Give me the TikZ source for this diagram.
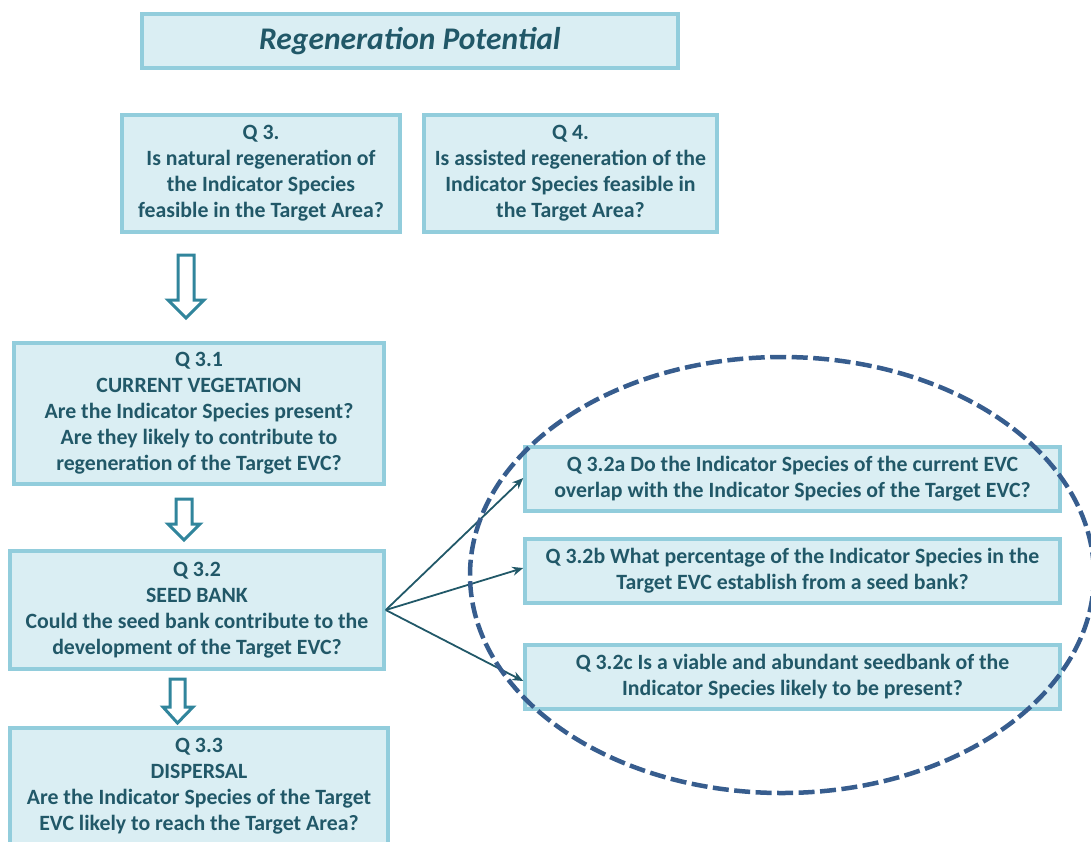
\documentclass[tikz,border=0pt]{standalone}
\usepackage{fontspec}
\setmainfont{Carlito}
\usetikzlibrary{arrows.meta}
\definecolor{boxfill}{HTML}{DAEEF3}
\definecolor{boxline}{HTML}{92CDDC}
\definecolor{txt}{HTML}{215868}
\definecolor{harrow}{HTML}{31859C}
\definecolor{ellc}{HTML}{375D8E}
\begin{document}
\begin{tikzpicture}[x=1pt,y=-1pt,
  qbox/.style={draw=boxline, fill=boxfill, line width=3.5pt, text=txt,
    font=\bfseries\fontsize{21.8}{26}\selectfont, align=center, inner sep=0pt},
  blockarrow/.style={draw=harrow, fill=white, line width=3pt, line join=miter},
  conn/.style={draw=txt, line width=1.8pt, -{Stealth[length=11pt,width=9pt]}},
  dashring/.style={draw=ellc, line width=4.5pt, dash pattern=on 16pt off 5.5pt}]
\useasboundingbox (0,0) rectangle (1091,841);
\clip (0,0) rectangle (1091,841);

\node[qbox, minimum width=536pt, minimum height=54pt,
  font=\bfseries\itshape\fontsize{31.5}{36}\selectfont] (title) at (410,41) {Regeneration Potential};

\node[qbox, minimum width=278pt, minimum height=117pt] (q3) at (261,173.5)
  {Q 3.\\Is natural\ regeneration of\\the Indicator Species\\feasible in the Target Area?};
\node[qbox, minimum width=293pt, minimum height=117pt] (q4) at (570.5,173.5)
  {Q 4.\\Is assisted regeneration of the\\Indicator Species feasible in\\the Target Area?};

\node[qbox, minimum width=370pt, minimum height=141pt] (q31) at (199,413.5)
  {Q 3.1\\CURRENT\ VEGETATION\\Are the Indicator Species present?\\Are they likely to contribute to\\regeneration of the Target EVC?};
\node[qbox, minimum width=374pt, minimum height=118pt] (q32) at (197,610)
  {Q 3.2\\SEED BANK\\Could the seed bank contribute to the\\development of the Target EVC?};
\node[qbox, minimum width=378pt, minimum height=116pt] (q33) at (199,786)
  {Q 3.3\\DISPERSAL\\Are the Indicator Species of the Target\\EVC likely to reach the Target Area?};

\node[qbox, minimum width=535pt, minimum height=64pt] (q32a) at (792.5,479)
  {Q 3.2a Do the Indicator Species of the current EVC\\overlap with the Indicator Species of the Target EVC?};
\node[qbox, minimum width=535pt, minimum height=64pt] (q32b) at (792.5,571)
  {Q 3.2b What percentage of the Indicator Species in the\\Target EVC establish from a seed bank?};
\node[qbox, minimum width=535pt, minimum height=64pt] (q32c) at (792.5,677)
  {Q 3.2c Is a viable and abundant seedbank of the\\Indicator Species likely to be present?};

% block arrows
\draw[blockarrow] (178,255) -- (194,255) -- (194,300) -- (204,300) -- (186,318) -- (168,300) -- (178,300) -- cycle;
\draw[blockarrow] (176,499) -- (192,499) -- (192,524) -- (200,524) -- (184,540) -- (168,524) -- (176,524) -- cycle;
\draw[blockarrow] (170,679) -- (185,679) -- (185,707) -- (193,707) -- (177.5,723) -- (163,707) -- (170,707) -- cycle;

% connectors
\draw[conn] (q32.east) -- ([yshift=1pt]q32a.west);
\draw[conn] (q32.east) -- ([yshift=3pt]q32b.west);
\draw[conn] (q32.east) -- ([yshift=-4pt]q32c.west);

% dashed ellipse
\draw[dashring] (782,575) ellipse [x radius=312, y radius=218];
\end{tikzpicture}
\end{document}
